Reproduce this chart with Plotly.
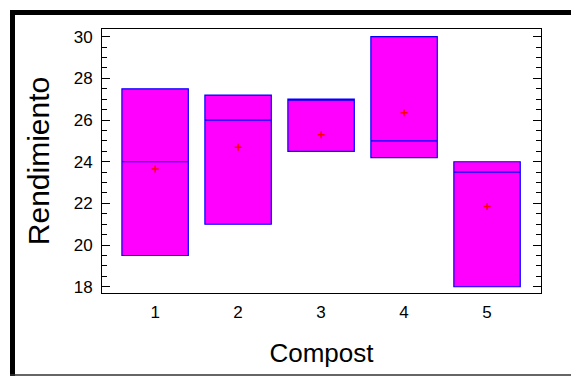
import plotly.graph_objects as go

# Data
compost = [1, 2, 3, 4, 5]
minimo = [19.5, 21.0, 24.5, 24.2, 18.0]
maximo = [27.5, 27.2, 27.0, 30.0, 24.0]
mediana = [24.0, 26.0, 27.0, 25.0, 23.5]
media = [23.65, 24.7, 25.3, 26.35, 21.85]

W, H = 571, 376
L, R, T, B = 102, 30, 29, 83
pw, ph = W - L - R, H - T - B

def px(x):
    return (x - L) / pw

def py(y):
    return (H - B - y) / ph

fig = go.Figure()
fig.add_trace(go.Box(
    x=compost, q1=minimo, q3=maximo, median=mediana,
    lowerfence=minimo, upperfence=maximo,
    width=0.8, fillcolor="#FF00FF",
    line=dict(color="#0000FF", width=1.2),
    whiskerwidth=0.25, boxpoints=False, hoverinfo="skip",
    showlegend=False,
))
fig.add_trace(go.Scatter(
    x=compost, y=media, mode="markers",
    marker=dict(symbol="cross-thin", size=5, line=dict(color="#FF0000", width=1.5)),
    showlegend=False, hoverinfo="skip",
))

font = "Arial, 'Liberation Sans', sans-serif"
fig.update_layout(
    width=W, height=H,
    margin=dict(l=L, r=R, t=T, b=B, pad=0),
    paper_bgcolor="white", plot_bgcolor="white",
    font=dict(family=font, color="black", size=17),
    xaxis=dict(
        range=[0.36, 5.65], tickvals=compost, ticktext=[str(c) for c in compost],
        ticks="", showgrid=False, zeroline=False,
        showline=True, linecolor="black", linewidth=1, mirror=True,
        tickfont=dict(size=17), ticklabelstandoff=4,
        title=dict(text="Compost", font=dict(size=26), standoff=22),
    ),
    yaxis=dict(
        range=[17.7, 30.37], tickvals=[18, 20, 22, 24, 26, 28, 30],
        ticks="inside", ticklen=8, tickwidth=1, tickcolor="black",
        minor=dict(dtick=0.5, ticks="inside", ticklen=5, tickwidth=1, tickcolor="black", showgrid=False),
        showgrid=False, zeroline=False,
        showline=True, linecolor="black", linewidth=1, mirror="ticks",
        tickfont=dict(size=17), ticklabelstandoff=5,
        title=dict(text="Rendimiento", font=dict(size=30), standoff=15),
    ),
    shapes=[
        dict(type="rect", xref="paper", yref="paper",
             x0=px(10), x1=px(15), y0=py(376), y1=py(10),
             fillcolor="black", line=dict(width=0), layer="above"),
        dict(type="rect", xref="paper", yref="paper",
             x0=px(10), x1=px(571), y0=py(15), y1=py(10),
             fillcolor="black", line=dict(width=0), layer="above"),
        dict(type="line", xref="paper", yref="paper",
             x0=px(10), x1=px(571), y0=py(375), y1=py(375),
             line=dict(color="#333333", width=1.5), layer="above"),
    ],
)

fig.write_html("out.html", config={"displayModeBar": False},
               post_script="document.body.style.margin='0';document.body.style.overflow='hidden';")
